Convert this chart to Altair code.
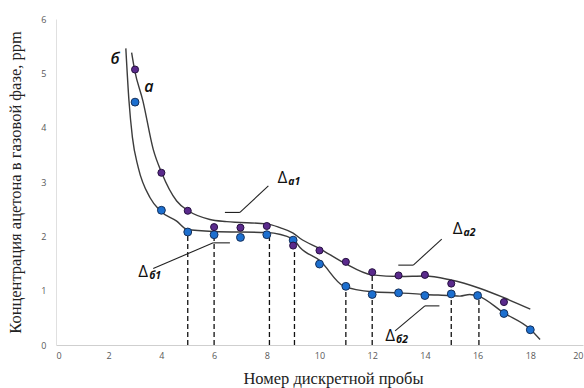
import altair as alt
import pandas as pd

# ---- data ----
x_ticks = list(range(0, 21, 2))
y_ticks = [0, 1, 2, 3, 4, 5, 6]

# measured points
a_x = [3, 4, 5, 6, 7, 8, 9, 10, 11, 12, 13, 14, 15, 17]
a_y = [5.07, 3.17, 2.47, 2.17, 2.16, 2.19, 1.83, 1.74, 1.53, 1.34, 1.28, 1.29, 1.13, 0.79]
b_x = [3, 4, 5, 6, 7, 8, 9, 10, 11, 12, 13, 14, 15, 16, 17, 18]
b_y = [4.47, 2.48, 2.08, 2.03, 1.98, 2.03, 1.93, 1.49, 1.08, 0.93, 0.96, 0.91, 0.94, 0.91, 0.58, 0.28]

# trend curves (traced)
ca_x = [2.87, 2.98, 3.3, 3.69, 4.01, 4.58, 5.02, 5.84, 6.48, 8.0, 8.5, 9.0, 9.27, 10.02, 10.9, 12.0, 13.05, 14.0, 14.95, 16.1, 17.0, 18.0]
ca_y = [5.38, 5.07, 4.49, 3.6, 3.17, 2.65, 2.47, 2.31, 2.27, 2.23, 2.16, 2.06, 1.96, 1.77, 1.52, 1.29, 1.26, 1.27, 1.2, 1.04, 0.87, 0.66]
cb_x = [2.65, 2.77, 2.9, 3.12, 3.57, 3.95, 4.58, 4.96, 5.97, 8.0, 9.0, 9.27, 10.02, 10.9, 12.0, 13.05, 14.0, 14.95, 15.33, 15.7, 16.03, 17.0, 18.0, 18.37]
cb_y = [5.46, 4.49, 3.82, 3.27, 2.71, 2.47, 2.28, 2.13, 2.09, 2.07, 1.95, 1.79, 1.55, 1.09, 0.98, 0.96, 0.93, 0.91, 0.90, 0.93, 0.90, 0.59, 0.29, 0.10]

# dashed drop lines
d_x = [5, 6, 8.1, 9.05, 11, 12, 15, 16.05]
d_top = [2.05, 2.02, 1.98, 1.75, 1.05, 1.27, 0.92, 0.9]

# annotation leader lines (segments)
l_x1 = [8.06, 6.98, 3.69, 5.97, 14.64, 13.56, 12.87, 14.0]
l_y1 = [2.93, 2.44, 1.41, 1.88, 1.95, 1.47, 0.26, 0.72]
l_x2 = [6.98, 6.41, 5.97, 6.60, 13.56, 12.99, 14.0, 14.55]
l_y2 = [2.44, 2.44, 1.88, 1.88, 1.47, 1.47, 0.72, 0.72]

# delta labels
dl_x = [8.59, 3.31, 15.24, 12.68]
dl_y = [3.08, 1.35, 2.13, 0.16]
dl_sub = ["а1", "б1", "а2", "б2"]

# curve letters
cl_text = ["б", "а"]
cl_x = [2.24, 3.53]
cl_y = [5.27, 4.75]

W, H = 527, 326
xs = alt.Scale(domain=[0, 20], nice=False, zero=False)
ys = alt.Scale(domain=[0, 6], nice=False, zero=False)

curves = pd.DataFrame(
    {"x": ca_x + cb_x, "y": ca_y + cb_y, "c": ["a"] * len(ca_x) + ["b"] * len(cb_x)}
)
pa = pd.DataFrame({"x": a_x, "y": a_y})
pb = pd.DataFrame({"x": b_x, "y": b_y})
dd = pd.DataFrame({"x": d_x, "top": d_top, "bot": [0] * len(d_x)})
ll = pd.DataFrame({"x1": l_x1, "y1": l_y1, "x2": l_x2, "y2": l_y2})
dl = pd.DataFrame({"x": dl_x, "y": dl_y, "t": ["Δ"] * 4, "s": dl_sub})
cl = pd.DataFrame({"x": cl_x, "y": cl_y, "t": cl_text})

x_axis = alt.Axis(
    values=x_ticks, format="d", ticks=False, grid=False, domainColor="#cfcfcf",
    labelFont="Open Sans", labelFontSize=9, labelColor="#595959", labelPadding=6,
    title="Номер дискретной пробы", titleFont="Liberation Serif", titleFontSize=16.5,
    titleFontWeight="normal", titleColor="#222222", titleX=277, titleY=33,
    titleBaseline="middle", titleAnchor="middle",
)
y_axis = alt.Axis(
    values=y_ticks, format="d", ticks=False, grid=False, domainColor="#e0e0e0",
    labelFont="Open Sans", labelFontSize=9, labelColor="#595959", labelPadding=10,
    title="Концентрация ацетона в газовой фазе, ppm", titleFont="Liberation Serif",
    titleFontSize=16.5, titleFontWeight="normal", titleColor="#222222",
    titleX=-41, titleY=H / 2, titleAngle=-90, titleBaseline="middle", titleAlign="center",
)

line_layer = alt.Chart(curves).mark_line(
    interpolate="monotone", color="#3c3c3c", strokeWidth=1.4
).encode(
    x=alt.X("x:Q", scale=xs, axis=x_axis),
    y=alt.Y("y:Q", scale=ys, axis=y_axis),
    detail="c:N",
)

dash_layer = alt.Chart(dd).mark_rule(
    strokeDash=[5, 3], color="#111111", strokeWidth=1.3
).encode(
    x=alt.X("x:Q", scale=xs), y=alt.Y("bot:Q", scale=ys), y2="top:Q"
)

lead_layer = alt.Chart(ll).mark_rule(color="#222222", strokeWidth=1.1).encode(
    x=alt.X("x1:Q", scale=xs), y=alt.Y("y1:Q", scale=ys), x2="x2:Q", y2="y2:Q"
)

pb_layer = alt.Chart(pb).mark_point(
    filled=True, size=62, fill="#1c6fcf", stroke="#16305a", strokeWidth=1, opacity=1
).encode(x=alt.X("x:Q", scale=xs), y=alt.Y("y:Q", scale=ys))

pa_layer = alt.Chart(pa).mark_point(
    filled=True, size=50, fill="#5a2a8c", stroke="#261040", strokeWidth=1, opacity=1
).encode(x=alt.X("x:Q", scale=xs), y=alt.Y("y:Q", scale=ys))

delta_layer = alt.Chart(dl).mark_text(
    font="Open Sans", fontSize=17, color="#111111", align="center", baseline="middle"
).encode(x=alt.X("x:Q", scale=xs), y=alt.Y("y:Q", scale=ys), text="t:N")

sub_layer = alt.Chart(dl).mark_text(
    font="Open Sans", fontSize=10.5, fontStyle="italic", fontWeight="bold",
    color="#111111", align="left", baseline="middle", dx=6, dy=4,
).encode(x=alt.X("x:Q", scale=xs), y=alt.Y("y:Q", scale=ys), text="s:N")

letter_layer = alt.Chart(cl).mark_text(
    font="Open Sans", fontSize=16, fontStyle="italic", fontWeight=600,
    color="#111111", align="center", baseline="middle",
).encode(x=alt.X("x:Q", scale=xs), y=alt.Y("y:Q", scale=ys), text="t:N")

chart = alt.layer(
    line_layer, dash_layer, lead_layer, pb_layer, pa_layer,
    delta_layer, sub_layer, letter_layer,
).properties(
    width=W, height=H,
    autosize=alt.AutoSizeParams(type="none"),
    padding={"left": 56, "top": 19, "right": 1, "bottom": 43},
    background="white",
).configure_view(stroke=None)

chart.save("out.html", embed_options={"renderer": "svg", "actions": False})
